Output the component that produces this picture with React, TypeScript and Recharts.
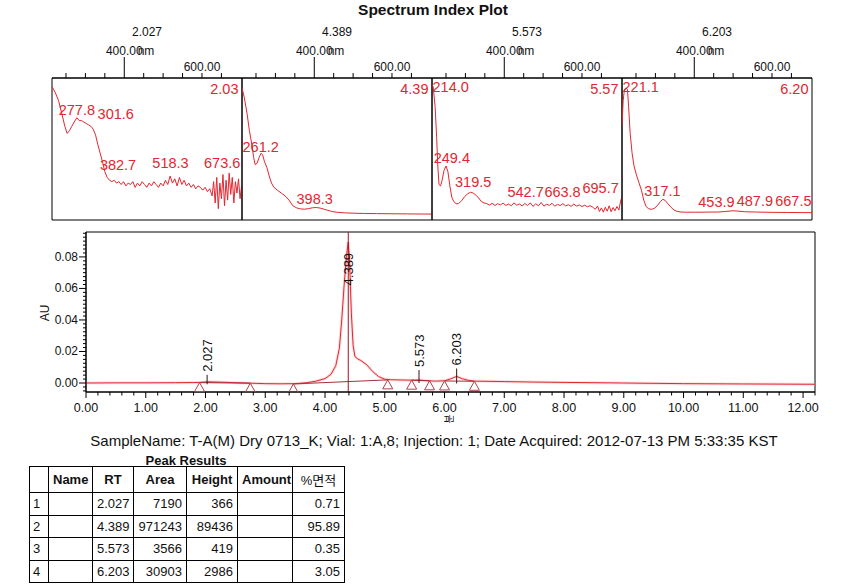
import React from 'react';
import { ComposedChart, Line, Scatter, XAxis, YAxis, ReferenceLine, ReferenceArea } from 'recharts';

const FONT = '"Liberation Sans", Arial, "Noto Sans CJK KR", sans-serif';
const RED = '#e3262f';

// peaks
const peakRts = [2.027, 4.389, 5.573, 6.203];
const cornerLabels = ['2.03', '4.39', '5.57', '6.20'];
const peakLineTop = [0.0052, 0.0958, 0.0082, 0.0092];
const peakLineBottom = [-0.0008, -0.0057, 0, -0.0003];
const peakLabelAu = [0.0052, 0.06, 0.0082, 0.0092];
const peakArea = [7190, 971243, 3566, 30903];
const peakHeight = [366, 89436, 419, 2986];
const peakPct = ['0.71', '95.89', '0.35', '3.05'];

// spectra: [nm, relative absorbance 0..100]
const spec1: [number, number][] = [
  [214, 94], [222, 90], [231, 84], [240, 74], [247, 66], [253, 61], [259, 63], [265, 66], [271, 69], [278, 72],
  [284, 70], [290, 70], [296, 69], [302, 68], [308, 67], [314, 66], [320, 64], [326, 60], [332, 53], [338, 47],
  [344, 41], [350, 34], [356, 30], [362, 28], [368, 27], [374, 28], [380, 26], [386, 27], [392, 25], [398, 27],
  [404, 24], [410, 26], [416, 25], [422, 27], [428, 23], [434, 26], [440, 24], [446, 27], [452, 25], [458, 23],
  [464, 26], [470, 24], [476, 27], [482, 25], [488, 23], [494, 26], [500, 24], [506, 28], [512, 25], [518, 31],
  [524, 26], [530, 29], [536, 24], [542, 30], [548, 25], [554, 28], [560, 24], [566, 26], [572, 23], [578, 25],
  [584, 22], [590, 24], [596, 23], [602, 21], [608, 23], [614, 20], [620, 22], [626, 17], [630, 27], [634, 12],
  [638, 30], [642, 8], [646, 26], [650, 15], [654, 32], [658, 10], [662, 28], [666, 14], [670, 33], [674, 18],
  [678, 30], [682, 12], [686, 27], [690, 19], [694, 29], [698, 15], [702, 24],
];
const spec2: [number, number][] = [
  [214, 93], [220, 86], [227, 75], [233, 63], [240, 52], [244, 44], [248, 39], [253, 40], [258, 44], [263, 47],
  [267, 46], [272, 41], [278, 37], [284, 31], [290, 26], [296, 23], [305, 21], [315, 19], [325, 17], [335, 14],
  [345, 10], [355, 8.5], [365, 7.8], [375, 7.6], [385, 8], [395, 8.6], [405, 8.8], [415, 8.4], [425, 7.6],
  [435, 6.8], [445, 6], [460, 5.4], [480, 5], [500, 4.8], [530, 4.6], [560, 4.5], [600, 4.4], [640, 4.3],
  [680, 4.2], [702, 4.2],
];
const spec3: [number, number][] = [
  [214, 95], [217, 94], [222, 80], [226, 58], [229, 38], [232, 25], [236, 24], [240, 28], [245, 35], [250, 38],
  [255, 34], [260, 24], [265, 16], [270, 13], [276, 11.5], [282, 11.5], [290, 13.5], [298, 16.5], [306, 18.5],
  [313, 19.5], [320, 19], [327, 17.5], [334, 15.5], [341, 13], [348, 12], [355, 11.5], [362, 10.5], [369, 11.8],
  [376, 10.2], [383, 11.5], [390, 10.6], [397, 11.9], [404, 10.3], [411, 11.2], [418, 10.1], [425, 12],
  [432, 10.4], [439, 11.3], [446, 9.9], [453, 11.6], [460, 10.2], [467, 12.1], [474, 9.6], [481, 11.4],
  [488, 10], [495, 12.3], [502, 9.8], [509, 11.1], [516, 10.3], [523, 11.8], [530, 9.7], [537, 11], [544, 10.2],
  [551, 11.5], [558, 9.9], [565, 10.8], [572, 9.6], [579, 11.2], [586, 9.8], [593, 10.6], [600, 9.5],
  [607, 10.4], [614, 9.3], [621, 10.1], [628, 9], [634, 7.5], [640, 9.8], [645, 6], [650, 8.5], [655, 5.5],
  [660, 9], [665, 6.2], [670, 10], [675, 5.8], [680, 8.8], [685, 6.5], [690, 9.5], [695, 7], [700, 14], [703, 16],
];
const spec4: [number, number][] = [
  [214, 66], [217, 84], [220, 91.5], [224, 93], [228, 92], [231, 80], [235, 61], [240, 47], [245, 38], [252, 31],
  [258, 26], [264, 21], [270, 14], [276, 9.5], [282, 8], [290, 7.5], [298, 8.3], [306, 10.5], [313, 13],
  [319, 14.6], [325, 13.8], [332, 11.5], [340, 9], [348, 7], [356, 6], [366, 5.6], [380, 5.5], [400, 5.5],
  [420, 5.5], [440, 5.6], [460, 5.6], [480, 6], [500, 6.5], [510, 6.3], [530, 5.8], [560, 5.6], [600, 5.4],
  [640, 5.3], [680, 5.2], [703, 5.2],
];

// spectrum peak annotations: [nm, level, text]
const specLabels1: [number, number, string][] = [
  [278, 77.5, '277.8'], [378, 74.6, '301.6'], [384, 38.7, '382.7'], [519, 40, '518.3'], [652, 40, '673.6'],
];
const specLabels2: [number, number, string][] = [[262, 51.6, '261.2'], [401, 14.6, '398.3']];
const specLabels3: [number, number, string][] = [
  [262, 93.4, '214.0'], [265, 43.4, '249.4'], [320, 27, '319.5'], [455, 20, '542.7'], [550, 20, '663.8'],
  [648, 22.3, '695.7'],
];
const specLabels4: [number, number, string][] = [
  [262, 93.4, '221.1'], [318, 20.6, '317.1'], [457, 12.5, '453.9'], [556, 13.4, '487.9'], [655, 13.4, '667.5'],
];

const spectra = [spec1, spec2, spec3, spec4];
const spectraLabels = [specLabels1, specLabels2, specLabels3, specLabels4];

const specDomain = [214, 703];
const specTicks = [250, 300, 350, 400, 450, 500, 550, 600, 650];
const specMajorTick = 400;
const specLabelTicks = [400, 600];

// chromatogram: [min, AU]
const trace: [number, number][] = [
  [0, 0], [0.5, 0.0001], [1, 0.0001], [1.5, 0.0002], [1.8, 0.0003], [1.9, 0.0004], [2, 0.0007], [2.03, 0.0008],
  [2.1, 0.0007], [2.3, 0.0005], [2.5, 0.0002], [2.75, -0.0001], [3, -0.0004], [3.25, -0.0005], [3.5, -0.0004],
  [3.7, 0.0002], [3.85, 0.0012], [4, 0.0028], [4.1, 0.0055], [4.18, 0.011], [4.24, 0.022], [4.28, 0.04],
  [4.32, 0.062], [4.36, 0.081], [4.389, 0.0894], [4.41, 0.078], [4.44, 0.045], [4.47, 0.024], [4.5, 0.0168],
  [4.55, 0.0152], [4.6, 0.0143], [4.7, 0.0115], [4.8, 0.0072], [4.9, 0.004], [5, 0.0024], [5.1, 0.0021],
  [5.3, 0.0019], [5.5, 0.0018], [5.573, 0.0019], [5.7, 0.0015], [5.85, 0.0012], [6, 0.0014], [6.1, 0.0026],
  [6.203, 0.0042], [6.3, 0.0027], [6.4, 0.0017], [6.5, 0.0012], [7, 0.0009], [7.5, 0.0006], [8, 0.0004],
  [9, 0], [10, -0.0004], [11, -0.0006], [12.2, -0.0008],
];
const baselines: [number, number][][] = [
  [[1.9, 0.0003], [2.75, -0.0001]],
  [[3.47, -0.0006], [5.05, 0.002]],
  [[5.45, 0.0018], [5.75, 0.0014]],
  [[6, 0.0013], [6.5, 0.0011]],
];
const markerTimes = [1.9, 2.75, 3.47, 5.05, 5.45, 5.75, 6.0, 6.5];
const markerAu = [0.0003, -0.0001, -0.0006, 0.002, 0.0018, 0.0014, 0.0013, 0.0011];

const xDomain = [0, 12.2];
const yDomain = [-0.0057, 0.0958];
const xTicks = Array.from({ length: 62 }, (_, i) => +(i * 0.2).toFixed(1));
const yTicks = Array.from({ length: 41 }, (_, i) => +(-0.005 + i * 0.0025).toFixed(4));

const tableHeaders = ['', 'Name', 'RT', 'Area', 'Height', 'Amount', '%면적'];
const colWidths = [19, 44, 41, 53, 51, 55, 52];

const SpecTick = (props: any) => {
  const { x, y, payload } = props;
  const v = payload.value;
  const isMajor = v === specMajorTick;
  return (
    <g>
      <line x1={x} x2={x} y1={y} y2={y - (isMajor ? 21 : 5)} stroke="#000" />
      {specLabelTicks.includes(v) && (
        <text x={x} y={isMajor ? y - 27.3 : y - 10.7} textAnchor="middle" dominantBaseline="central"
          fontSize={12} fontFamily={FONT} fill="#111">{v.toFixed(2)}</text>
      )}
    </g>
  );
};

const ChromXTick = (props: any) => {
  const { x, y, payload } = props;
  const v = payload.value;
  const isMajor = Math.abs(v - Math.round(v)) < 1e-6;
  return (
    <g>
      <line x1={x} x2={x} y1={y} y2={y + (isMajor ? 6 : 3.5)} stroke="#000" />
      {isMajor && (
        <text x={x} y={y + 16} textAnchor="middle" dominantBaseline="central" fontSize={12.5}
          fontFamily={FONT} fill="#111">{v.toFixed(2)}</text>
      )}
    </g>
  );
};

const ChromYTick = (props: any) => {
  const { x, y, payload } = props;
  const v = payload.value;
  const isMajor = Math.abs(v * 50 - Math.round(v * 50)) < 1e-6;
  return (
    <g>
      <line x1={x} x2={x - (isMajor ? 7 : 3)} y1={y} y2={y} stroke="#000" />
      {isMajor && (
        <text x={x - 8} y={y} textAnchor="end" dominantBaseline="central" fontSize={12}
          fontFamily={FONT} fill="#111">{Math.abs(v).toFixed(2)}</text>
      )}
    </g>
  );
};

const Txt = ({ x, y, children, style, anchor = 'middle' }: any) => (
  <div style={{
    position: 'absolute', left: x, top: y, whiteSpace: 'nowrap', lineHeight: 1, fontFamily: FONT,
    transform: anchor === 'end' ? 'translate(-100%, -50%)' : 'translate(-50%, -50%)', ...style,
  }}>{children}</div>
);

const SpectrumPanel = ({ index }: { index: number }) => {
  const data = spectra[index].map(([nm, v]) => ({ nm, v }));
  const labels = spectraLabels[index].map(([nm, v, label]) => ({ nm, v, label }));
  return (
    <div style={{ position: 'absolute', left: 50 + 190 * index, top: 20 }}>
      <ComposedChart width={194} height={202} margin={{ top: 0, right: 2, bottom: 2, left: 2 }}>
        <XAxis dataKey="nm" type="number" orientation="top" domain={specDomain} ticks={specTicks} interval={0}
          tick={<SpecTick />} tickLine={false} tickSize={0} tickMargin={0} height={58}
          axisLine={{ stroke: '#000' }} allowDataOverflow />
        <YAxis dataKey="v" type="number" domain={[0, 100]} hide allowDataOverflow />
        <ReferenceArea x1={specDomain[0]} x2={specDomain[1]} y1={0} y2={100} fill="none" stroke="#000"
          strokeWidth={1} ifOverflow="visible" />
        <Line data={data} dataKey="v" type="linear" stroke={RED} strokeWidth={1} dot={false}
          isAnimationActive={false} />
        <Scatter data={labels} dataKey="v" isAnimationActive={false}
          shape={(p: any) => (
            <text x={p.cx} y={p.cy} textAnchor="middle" dominantBaseline="central" fontSize={14.5}
              fontFamily={FONT} fill={RED}>{p.payload.label}</text>
          )} />
      </ComposedChart>
    </div>
  );
};

const Chromatogram = () => {
  const traceData = trace.map(([t, au]) => ({ t, au }));
  const markers = markerTimes.map((t, i) => ({ t, au: markerAu[i] }));
  const peakLabels = peakRts.map((t, i) => ({ t, au: peakLabelAu[i], label: t.toFixed(3) }));
  return (
    <div style={{ position: 'absolute', left: 0, top: 220 }}>
      <ComposedChart width={843} height={202} margin={{ top: 12, right: 28, bottom: 0, left: 30 }}>
        <XAxis dataKey="t" type="number" domain={xDomain} ticks={xTicks} interval={0} tick={<ChromXTick />}
          tickLine={false} tickSize={0} tickMargin={0} height={30} axisLine={{ stroke: '#000' }} allowDataOverflow />
        <YAxis dataKey="au" type="number" domain={yDomain} ticks={yTicks} interval={0} tick={<ChromYTick />}
          tickLine={false} tickSize={0} tickMargin={0} width={56} axisLine={{ stroke: '#000' }} allowDataOverflow />
        <ReferenceArea x1={xDomain[0]} x2={xDomain[1]} y1={yDomain[0]} y2={yDomain[1]} fill="none" stroke="#000"
          strokeWidth={1} ifOverflow="visible" />
        <Line data={traceData} dataKey="au" type="linear" stroke="#f5b5ba" strokeWidth={3} strokeOpacity={0.45}
          dot={false} isAnimationActive={false} />
        <Line data={traceData} dataKey="au" type="linear" stroke={RED} strokeWidth={1} dot={false}
          isAnimationActive={false} />
        {baselines.map((seg, i) => (
          <Line key={i} data={seg.map(([t, au]) => ({ t, au }))} dataKey="au" type="linear" stroke="#a8303a"
            strokeWidth={1} dot={false} isAnimationActive={false} />
        ))}
        <Scatter data={markers} dataKey="au" isAnimationActive={false}
          shape={(p: any) => (
            <path d={`M${p.cx},${p.cy} L${p.cx - 5},${p.cy + 9} L${p.cx + 5},${p.cy + 9} Z`} fill="none"
              stroke="#b0404a" strokeWidth={1} />
          )} />
        {peakRts.map((t, i) => (
          <ReferenceLine key={i} segment={[{ x: t, y: peakLineBottom[i] }, { x: t, y: peakLineTop[i] }]}
            stroke={i === 1 ? '#a0141e' : '#3a1010'} strokeWidth={1} ifOverflow="visible" />
        ))}
        <Scatter data={peakLabels} dataKey="au" isAnimationActive={false}
          shape={(p: any) => (
            <text x={p.cx} y={p.cy} dx={3} dy="0.36em" transform={`rotate(-90 ${p.cx} ${p.cy})`}
              textAnchor="start" fontSize={13} fontFamily={FONT} fill="#111">{p.payload.label}</text>
          )} />
      </ComposedChart>
    </div>
  );
};

const App: React.FC = () => {
  const cell: React.CSSProperties = { border: '1px solid #000', padding: '0 4px', whiteSpace: 'nowrap' };
  return (
    <div style={{ position: 'absolute', left: 0, top: 0, width: 843, height: 585, background: '#fff', fontFamily: FONT, color: '#111' }}>
      <Txt x={433} y={10} style={{ fontSize: 15.5, fontWeight: 'bold' }}>Spectrum Index Plot</Txt>
      {peakRts.map((t, i) => (
        <React.Fragment key={i}>
          <Txt x={147 + 190 * i} y={32} style={{ fontSize: 12 }}>{t.toFixed(3)}</Txt>
          <Txt x={146 + 190 * i} y={50.7} style={{ fontSize: 12 }}>nm</Txt>
          <Txt x={238.5 + 190 * i} y={89} anchor="end" style={{ fontSize: 14.5, color: RED }}>{cornerLabels[i]}</Txt>
        </React.Fragment>
      ))}
      {[0, 1, 2, 3].map((i) => <SpectrumPanel key={i} index={i} />)}
      <Chromatogram />
      <Txt x={45} y={313} style={{ fontSize: 12, transform: 'translate(-50%, -50%) rotate(-90deg)' }}>AU</Txt>
      <Txt x={450} y={419} style={{ fontSize: 10, transform: 'translate(-50%, -50%) rotate(-90deg)' }}>분</Txt>
      <Txt x={434} y={440} style={{ fontSize: 15 }}>
        SampleName: T-A(M) Dry 0713_K; Vial: 1:A,8; Injection: 1; Date Acquired: 2012-07-13 PM 5:33:35 KST
      </Txt>
      <Txt x={186} y={460} style={{ fontSize: 13, fontWeight: 'bold' }}>Peak Results</Txt>
      <table style={{ position: 'absolute', left: 29, top: 466, borderCollapse: 'collapse', tableLayout: 'fixed',
        width: 315, fontSize: 13, fontFamily: FONT }}>
        <colgroup>{colWidths.map((w, i) => <col key={i} style={{ width: w }} />)}</colgroup>
        <tbody>
          <tr style={{ height: 26 }}>
            {tableHeaders.map((h, i) => (
              <td key={i} style={{ ...cell, textAlign: 'center', fontWeight: i === 6 ? 'normal' : 'bold' }}>{h}</td>
            ))}
          </tr>
          {peakRts.map((t, i) => (
            <tr key={i} style={{ height: 22.5 }}>
              <td style={{ ...cell, padding: '0 3px' }}>{i + 1}</td>
              <td style={cell}></td>
              <td style={{ ...cell, textAlign: 'right' }}>{t.toFixed(3)}</td>
              <td style={{ ...cell, textAlign: 'right' }}>{peakArea[i]}</td>
              <td style={{ ...cell, textAlign: 'right' }}>{peakHeight[i]}</td>
              <td style={cell}></td>
              <td style={{ ...cell, textAlign: 'right' }}>{peakPct[i]}</td>
            </tr>
          ))}
        </tbody>
      </table>
    </div>
  );
};

export default App;
